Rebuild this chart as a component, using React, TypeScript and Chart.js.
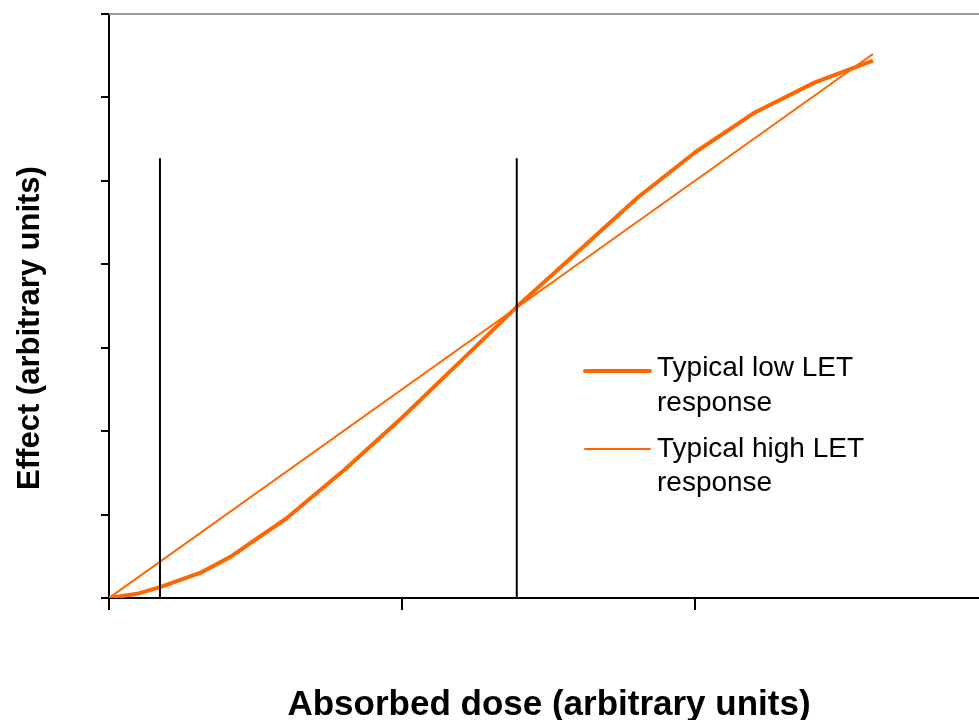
import React, { useEffect, useRef } from "react";
import { Chart, registerables } from "chart.js";

Chart.register(...registerables);

// Absorbed dose (arbitrary units) and effect (arbitrary units)
const lowLetDose = [0, 0.096, 0.174, 0.311, 0.413, 0.604, 0.805, 1.0, 1.198, 1.392, 1.607, 1.805, 2.0, 2.205, 2.41, 2.608];
const lowLetEffect = [0, 0.05, 0.13, 0.3, 0.49, 0.95, 1.54, 2.16, 2.83, 3.49, 4.17, 4.8, 5.34, 5.82, 6.18, 6.44];
const highLetDose = [0, 2.608];
const highLetEffect = [0, 6.52];
const markerDoses = [0.174, 1.392];
const markerTop = 5.27;
const xTicks = [0, 1, 2];
const xMax = 2.97;
const yMax = 7;

const legendLabels = [
  ["Typical low LET", "response"],
  ["Typical high LET", "response"],
];
const xTitle = "Absorbed dose (arbitrary units)";
const yTitle = "Effect (arbitrary units)";

const ORANGE = "#FF6600";

export default function App() {
  const ref = useRef<HTMLCanvasElement | null>(null);
  useEffect(() => {
    const canvas = ref.current;
    if (!canvas) return;

    const overlay = {
      id: "overlay",
      afterDraw(chart: any) {
        const ctx = chart.ctx;
        const area = chart.chartArea;
        ctx.save();
        // top border
        ctx.strokeStyle = "#999999";
        ctx.lineWidth = 2;
        ctx.beginPath();
        ctx.moveTo(area.left, area.top);
        ctx.lineTo(area.right, area.top);
        ctx.stroke();
        // legend
        const lx1 = 585, lx2 = 650, tx = 657;
        ctx.font = "28px 'Liberation Sans', Arial, sans-serif";
        ctx.fillStyle = "#000";
        ctx.textBaseline = "middle";
        ctx.textAlign = "left";
        const rows = [
          { y: 371, w: 4, t1: 368, t2: 403 },
          { y: 449, w: 2, t1: 449, t2: 483 },
        ];
        rows.forEach((r, i) => {
          ctx.strokeStyle = ORANGE;
          ctx.lineWidth = r.w;
          ctx.lineCap = "round";
          ctx.beginPath();
          ctx.moveTo(lx1, r.y);
          ctx.lineTo(lx2, r.y);
          ctx.stroke();
          ctx.fillText(legendLabels[i][0], tx, r.t1);
          ctx.fillText(legendLabels[i][1], tx, r.t2);
        });
        // axis titles
        ctx.font = "bold 35px 'Liberation Sans', Arial, sans-serif";
        ctx.textAlign = "center";
        ctx.fillText(xTitle, 549, 705);
        ctx.font = "bold 31px 'Liberation Sans', Arial, sans-serif";
        ctx.translate(30, 328);
        ctx.rotate(-Math.PI / 2);
        ctx.fillText(yTitle, 0, 0);
        ctx.restore();
      },
    };

    const chart = new Chart(canvas, {
      type: "scatter",
      data: {
        datasets: [
          {
            label: "marker1",
            data: [
              { x: markerDoses[0], y: 0 },
              { x: markerDoses[0], y: markerTop },
            ],
            showLine: true,
            borderColor: "#000",
            borderWidth: 2,
            pointRadius: 0,
          },
          {
            label: "marker2",
            data: [
              { x: markerDoses[1], y: 0 },
              { x: markerDoses[1], y: markerTop },
            ],
            showLine: true,
            borderColor: "#000",
            borderWidth: 2,
            pointRadius: 0,
          },
          {
            label: "Typical high LET response",
            data: highLetDose.map((x, i) => ({ x, y: highLetEffect[i] })),
            showLine: true,
            borderColor: ORANGE,
            borderWidth: 2,
            pointRadius: 0,
          },
          {
            label: "Typical low LET response",
            data: lowLetDose.map((x, i) => ({ x, y: lowLetEffect[i] })),
            showLine: true,
            borderColor: ORANGE,
            borderWidth: 4,
            pointRadius: 0,
            borderJoinStyle: "round",
          },
        ],
      },
      options: {
        animation: false,
        responsive: false,
        layout: { padding: { top: 14, right: 0, left: 0, bottom: 0 } },
        plugins: { legend: { display: false }, tooltip: { enabled: false } },
        scales: {
          x: {
            type: "linear",
            min: 0,
            max: xMax,
            afterBuildTicks: (s: any) => {
              s.ticks = xTicks.map((v) => ({ value: v }));
            },
            afterFit: (s: any) => {
              s.height = 122;
            },
            ticks: { display: false },
            grid: {
              drawOnChartArea: false,
              drawTicks: true,
              tickLength: 12,
              color: "#000",
              lineWidth: 2,
            },
            border: { color: "#000", width: 2 },
          },
          y: {
            type: "linear",
            min: 0,
            max: yMax,
            ticks: { display: false, stepSize: 1 },
            afterFit: (s: any) => {
              s.width = 109;
            },
            grid: {
              drawOnChartArea: false,
              drawTicks: true,
              tickLength: 8,
              color: "#000",
              lineWidth: 2,
            },
            border: { color: "#000", width: 2 },
          },
        },
      },
      plugins: [overlay],
    } as any);
    return () => chart.destroy();
  }, []);
  return (
    <canvas
      ref={ref}
      width={979}
      height={720}
      style={{ display: "block", position: "absolute", left: 0, top: 0 }}
    />
  );
}
